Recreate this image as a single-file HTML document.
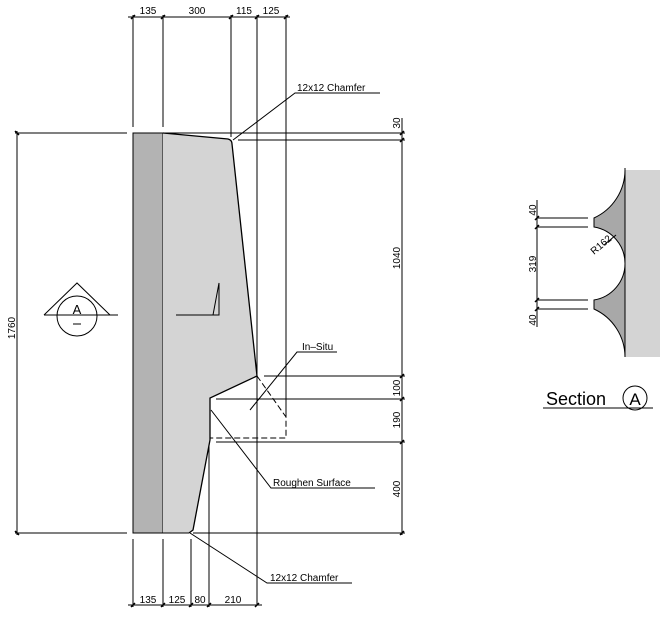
<!DOCTYPE html>
<html><head><meta charset="utf-8"><style>
html,body{margin:0;padding:0;background:#fff;}
svg{display:block;}
text{font-family:"Liberation Sans",sans-serif;fill:#000;}
</style></head><body>
<svg width="669" height="637" viewBox="0 0 669 637" xmlns="http://www.w3.org/2000/svg">
<g stroke="#000" stroke-width="1" fill="none">
<rect x="133" y="133" width="30" height="400" fill="#b3b3b3" stroke="#000"/>
<path d="M163,133 L228,139 Q232,140 232,144 L257,376 L210,398 L210,440 L193,530 L189,533 L163,533 Z" fill="#d4d4d4" stroke="none"/>
<path d="M163,133 L228,139 Q232,140 232,144 L257,376 L210,398 L210,440 L193,530 L189,533" stroke-width="1.3"/>
<line x1="163" y1="533" x2="189" y2="533"/>
<path d="M257,376 L286,417 L286,438 L210,438" stroke-dasharray="6,3"/>
<line x1="133" y1="15" x2="133" y2="127"/>
<line x1="163" y1="15" x2="163" y2="127"/>
<line x1="231" y1="15" x2="231" y2="137"/>
<line x1="257" y1="15" x2="257" y2="605"/>
<line x1="286" y1="15" x2="286" y2="417"/>
<line x1="128" y1="17" x2="290" y2="17"/>
<line x1="133" y1="539" x2="133" y2="607"/>
<line x1="163" y1="539" x2="163" y2="607"/>
<line x1="191" y1="539" x2="191" y2="607"/>
<line x1="209" y1="445" x2="209" y2="607"/>
<line x1="128" y1="605" x2="262" y2="605"/>
<line x1="15" y1="133" x2="127" y2="133"/>
<line x1="133" y1="133" x2="405" y2="133"/>
<line x1="15" y1="533" x2="127" y2="533"/>
<line x1="193" y1="533" x2="405" y2="533"/>
<line x1="238" y1="140" x2="405" y2="140"/>
<line x1="264" y1="376" x2="405" y2="376"/>
<line x1="216" y1="399" x2="405" y2="399"/>
<line x1="216" y1="442" x2="405" y2="442"/>
<line x1="402" y1="118" x2="402" y2="535"/>
<line x1="17" y1="131" x2="17" y2="535"/>
<g stroke-width="1.5">
<path d="M131,19 L135,15 M161,19 L165,15 M229,19 L233,15 M255,19 L259,15 M284,19 L288,15"/>
<path d="M131,607 L135,603 M161,607 L165,603 M189,607 L193,603 M207,607 L211,603 M255,607 L259,603"/>
<path d="M400,135 L404,131 M400,142 L404,138 M400,378 L404,374 M400,401 L404,397 M400,444 L404,440 M400,535 L404,531"/>
<path d="M15,131 L19,135 M15,531 L19,535"/>
</g>
<polyline points="233,140 295,93 380,93"/>
<polyline points="250,410 297,352 337,352"/>
<polyline points="211,410 271,488 375,488"/>
<polyline points="190,533 267,583 352,583"/>
<path d="M44,315 L77,283 L110,315"/>
<line x1="44" y1="315" x2="118" y2="315"/>
<circle cx="77" cy="316" r="20"/>
<line x1="73" y1="324" x2="81" y2="324"/>
<path d="M176,315 L219,315 L219,283 L213,315"/>
<rect x="625" y="170" width="35" height="187" fill="#d4d4d4" stroke="none"/>
<path d="M625,170 A53,53 0 0 1 594,218 L594,227 A37,37 0 0 1 625,263.5 A37,37 0 0 1 594,300 L594,309 A53,53 0 0 1 625,357 Z" fill="#a8a8a8" stroke="none"/>
<path d="M625,170 A53,53 0 0 1 594,218 L594,227 A37,37 0 0 1 625,263.5 A37,37 0 0 1 594,300 L594,309 A53,53 0 0 1 625,357"/>
<line x1="625" y1="168" x2="625" y2="357"/>
<line x1="537" y1="218" x2="588" y2="218"/>
<line x1="537" y1="227" x2="588" y2="227"/>
<line x1="537" y1="300" x2="588" y2="300"/>
<line x1="537" y1="309" x2="588" y2="309"/>
<line x1="537" y1="200" x2="537" y2="327"/>
<path d="M535,220 L539,216 M535,229 L539,225 M535,302 L539,298 M535,311 L539,307" stroke-width="1.5"/>
<line x1="604" y1="245" x2="616" y2="235"/>
<line x1="543" y1="408" x2="653" y2="408"/>
<circle cx="635" cy="398" r="12"/>
</g>
<g font-size="10">
<text x="148" y="14" text-anchor="middle">135</text>
<text x="197" y="14" text-anchor="middle">300</text>
<text x="244" y="14" text-anchor="middle">115</text>
<text x="271" y="14" text-anchor="middle">125</text>
<text x="148" y="603" text-anchor="middle">135</text>
<text x="177" y="603" text-anchor="middle">125</text>
<text x="200" y="603" text-anchor="middle">80</text>
<text x="233" y="603" text-anchor="middle">210</text>
<text x="297" y="91">12x12  Chamfer</text>
<text x="302" y="350">In–Situ</text>
<text x="273" y="486">Roughen  Surface</text>
<text x="270" y="581">12x12  Chamfer</text>
<text transform="translate(400,123) rotate(-90)" text-anchor="middle">30</text>
<text transform="translate(400,258) rotate(-90)" text-anchor="middle">1040</text>
<text transform="translate(400,388) rotate(-90)" text-anchor="middle">100</text>
<text transform="translate(400,420) rotate(-90)" text-anchor="middle">190</text>
<text transform="translate(400,489) rotate(-90)" text-anchor="middle">400</text>
<text transform="translate(15,328) rotate(-90)" text-anchor="middle">1760</text>
<text transform="translate(536,210) rotate(-90)" text-anchor="middle">40</text>
<text transform="translate(536,264) rotate(-90)" text-anchor="middle">319</text>
<text transform="translate(536,320) rotate(-90)" text-anchor="middle">40</text>
<text transform="translate(594,255) rotate(-40)">R162</text>
<text x="77" y="314" text-anchor="middle" font-size="13">A</text>
</g>
<text x="546" y="405" font-size="18">Section</text>
<text x="635" y="405" font-size="17" text-anchor="middle">A</text>
</svg>
</body></html>
